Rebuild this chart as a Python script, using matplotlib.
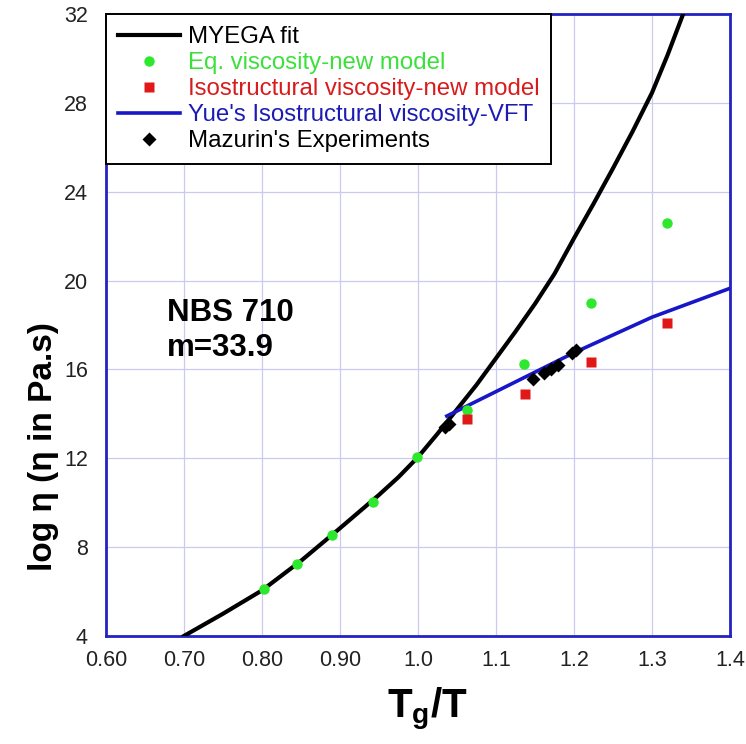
import matplotlib
matplotlib.use("Agg")
import matplotlib.pyplot as plt

plt.rcParams['font.family'] = ['Liberation Sans', 'DejaVu Sans']
plt.rcParams['mathtext.fontset'] = 'custom'
plt.rcParams['mathtext.bf'] = 'Liberation Sans:bold'
plt.rcParams['mathtext.rm'] = 'Liberation Sans'

# MYEGA fit curve (Tg/T, log eta)
myega_x = [0.70, 0.75, 0.80, 0.85, 0.90, 0.95, 0.975, 1.00, 1.025, 1.05, 1.075, 1.10, 1.125,
           1.15, 1.175, 1.20, 1.225, 1.25, 1.275, 1.30, 1.32, 1.34]
myega_y = [4.0, 5.0, 6.05, 7.38, 8.85, 10.35, 11.15, 12.05, 13.1, 14.2, 15.3, 16.5, 17.7,
           18.95, 20.3, 21.9, 23.45, 25.05, 26.7, 28.45, 30.15, 32.0]

# equilibrium viscosity, new model
eq_x = [0.803, 0.845, 0.890, 0.942, 0.999, 1.063, 1.136, 1.222, 1.319]
eq_y = [6.12, 7.24, 8.55, 10.03, 12.06, 14.17, 16.25, 18.99, 22.59]

# isostructural viscosity, new model
iso_x = [1.063, 1.137, 1.222, 1.319]
iso_y = [13.77, 14.89, 16.33, 18.09]

# Yue's isostructural viscosity (VFT)
vft_x = [1.037, 1.10, 1.20, 1.30, 1.40]
vft_y = [13.9, 15.0, 16.75, 18.35, 19.65]

# Mazurin's experiments
maz_x = [1.035, 1.040, 1.147, 1.162, 1.170, 1.179, 1.197, 1.203]
maz_y = [13.42, 13.56, 15.57, 15.84, 16.02, 16.20, 16.74, 16.87]

xticks = [0.6, 0.7, 0.8, 0.9, 1.0, 1.1, 1.2, 1.3, 1.4]
xticklabels = ["0.60", "0.70", "0.80", "0.90", "1.0", "1.1", "1.2", "1.3", "1.4"]
yticks = [4, 8, 12, 16, 20, 24, 28, 32]

frame_blue = "#2323c4"

fig = plt.figure(figsize=(7.46, 7.44), dpi=100)
ax = fig.add_axes([0.142, 0.1452, 0.8365, 0.836])

ax.plot(myega_x, myega_y, color="black", lw=3, label="MYEGA fit", zorder=3)
ax.plot(eq_x, eq_y, "o", color="#2ee82e", ms=7.5, mec="none", label="Eq. viscosity-new model", zorder=5)
ax.plot(iso_x, iso_y, "s", color="#e01818", ms=7.5, mec="none", label="Isostructural viscosity-new model", zorder=5)
ax.plot(vft_x, vft_y, color="#1717c8", lw=2.6, label="Yue's Isostructural viscosity-VFT", zorder=4)
ax.plot(maz_x, maz_y, "D", color="black", ms=7, mec="none", label="Mazurin's Experiments", zorder=6)

ax.set_xlim(0.6, 1.4)
ax.set_ylim(4, 32)
ax.set_xticks(xticks)
ax.set_xticklabels(xticklabels)
ax.set_yticks(yticks)
ax.tick_params(axis="both", length=0, labelsize=15.5, colors="#222222")
ax.tick_params(axis="x", pad=10)
ax.tick_params(axis="y", pad=13)
ax.grid(True, color="#c9c9f2", lw=0.9)
ax.set_axisbelow(True)
for s in ax.spines.values():
    s.set_color(frame_blue)
    s.set_linewidth(2)

ax.set_ylabel("log \u03b7 (\u03b7 in Pa.s)", fontsize=24, fontweight="bold")
ax.yaxis.set_label_coords(-0.076, 0.305)
ax.set_xlabel(r"$\mathbf{T_g/T}$", fontsize=29)
ax.xaxis.set_label_coords(0.515, -0.08)

ax.text(0.678, 19.2, "NBS 710\nm=33.9", fontsize=22.5, fontweight="bold", va="top", ha="left",
        linespacing=1.2)

leg = ax.legend(loc="upper left", bbox_to_anchor=(0.0, 1.0), borderaxespad=0.0, fontsize=17.3,
                handlelength=2.6, handletextpad=0.3, labelspacing=0.17, borderpad=0.5,
                fancybox=False, framealpha=1, edgecolor="black")
leg.get_frame().set_linewidth(1.4)
text_colors = ["black", "#3be03b", "#d81c1c", "#1c1cb4", "black"]
for t, c in zip(leg.get_texts(), text_colors):
    t.set_color(c)

fig.savefig("out.png", dpi=100)
